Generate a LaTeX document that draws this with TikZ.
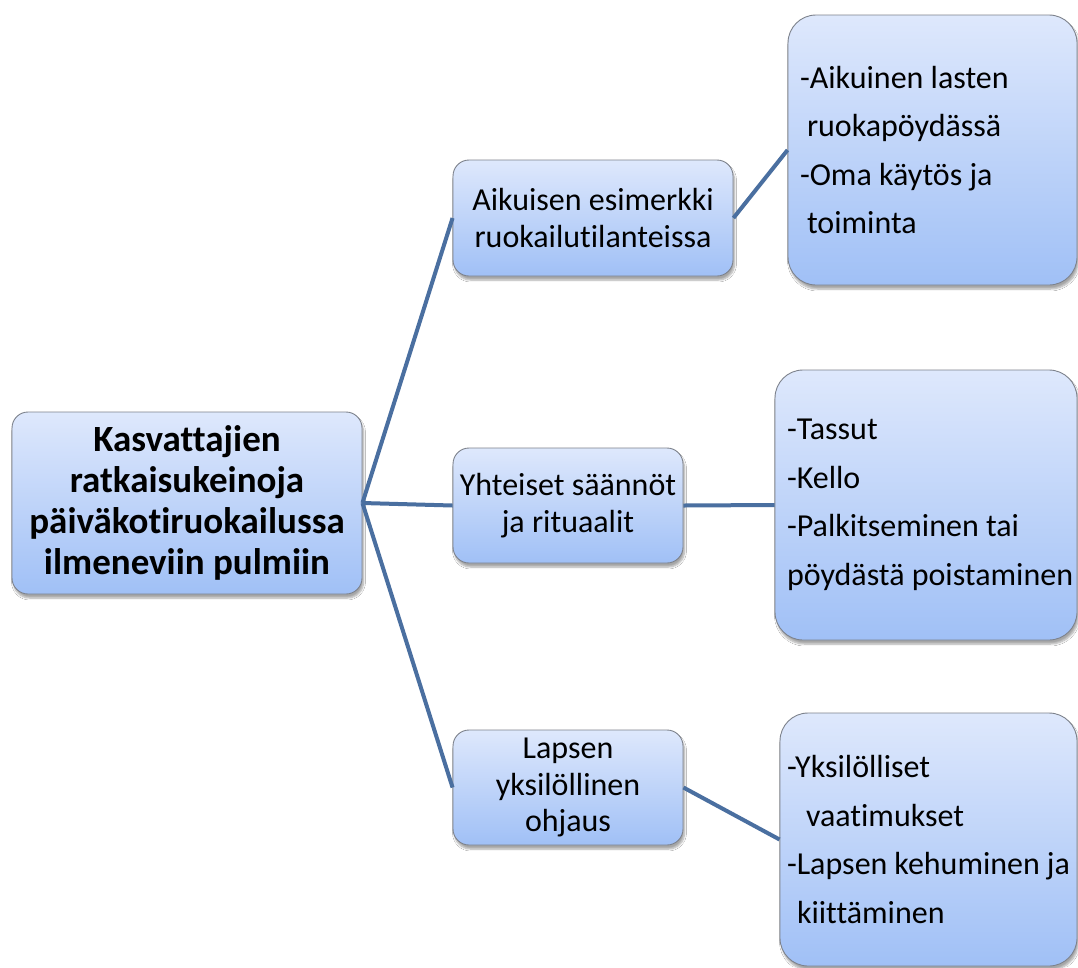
\documentclass[tikz,border=0pt]{standalone}
\usepackage{fontspec}
\setmainfont{Carlito}[Ligatures=NoCommon]
\usetikzlibrary{shadows.blur}
\definecolor{topc}{RGB}{222,232,252}
\definecolor{botc}{RGB}{160,192,246}
\definecolor{edgec}{RGB}{125,130,140}
\definecolor{linec}{RGB}{74,111,160}
\newcommand{\natspace}{\spaceskip=0pt\relax\xspaceskip=0pt\relax\hyphenpenalty=10000\relax\hbadness=10000\relax\hfuzz=100pt\relax}
\begin{document}
\begin{tikzpicture}[x=1pt,y=-1pt,
  box/.style={draw=edgec, line width=0.9pt, rounded corners=16pt,
    top color=topc, bottom color=botc,
    blur shadow={shadow xshift=1.5pt, shadow yshift=-4pt, shadow blur steps=6, shadow opacity=35},
    inner sep=0pt, anchor=center},
  midbox/.style={box, font=\fontsize{32}{36.5}\selectfont, align=center},
  rootbox/.style={box, font=\fontsize{37}{41}\selectfont\bfseries, align=center},
  listbox/.style={box, rounded corners=28pt, font=\fontsize{32}{48.5}\selectfont, align=left, inner xsep=12pt},
  conn/.style={draw=linec, line width=4pt}]
\useasboundingbox (0,0) rectangle (1078,967);
\fill[white] (0,0) rectangle (1078,967);

\node[rootbox, minimum width=350pt, minimum height=182pt] (root) at (187,503)
  {Kasvattajien\\ratkaisukeinoja\\päiväkotiruokailussa\\ilmeneviin pulmiin};

\node[midbox, minimum width=280pt, minimum height=116pt] (a) at (593,218)
  {Aikuisen esimerkki\\ruokailutilanteissa};
\node[midbox, minimum width=230pt, minimum height=115pt] (b) at (568,505.5)
  {Yhteiset säännöt\\ja rituaalit};
\node[midbox, minimum width=230pt, minimum height=115pt] (c) at (568,787.5)
  {Lapsen\\yksilöllinen\\ohjaus};

\node[listbox, minimum width=289pt, minimum height=270pt, text width=265pt] (r1) at (932.5,150)
  {\natspace -Aikuinen lasten\\\hspace*{7pt}ruokapöydässä\\-Oma käytös ja\\\hspace*{7pt}toiminta};
\node[listbox, minimum width=302pt, minimum height=270pt, text width=278pt] (r2) at (926,505)
  {\natspace -Tassut\\-Kello\\-Palkitseminen tai\\\mbox{pöydästä poistaminen}};
\node[listbox, inner xsep=7pt, minimum width=297pt, minimum height=253pt, text width=283pt] (r3) at (928.5,839.5)
  {\natspace -Yksilölliset\\\hspace*{19pt}vaatimukset\\-Lapsen kehuminen ja\\\hspace*{10pt}kiittäminen};

\draw[conn] (root.east) -- (a.west);
\draw[conn] (root.east) -- (b.west);
\draw[conn] (root.east) -- (c.west);
\draw[conn] (a.east) -- (r1.west);
\draw[conn] (b.east) -- (r2.west);
\draw[conn] (c.east) -- (r3.west);
\end{tikzpicture}
\end{document}
